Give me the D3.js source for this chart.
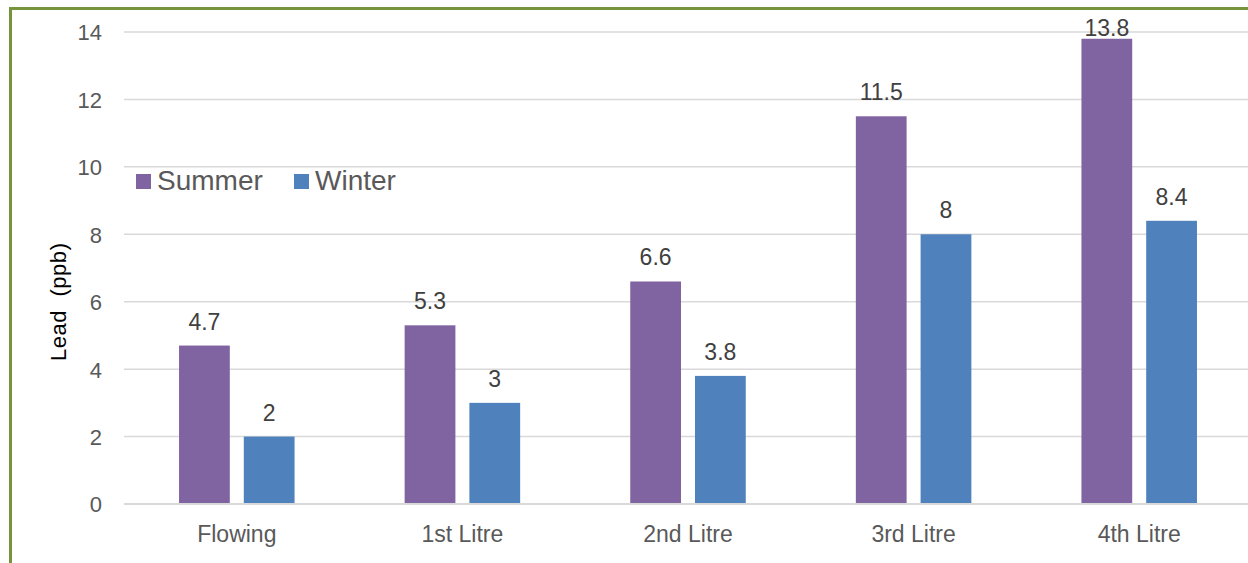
<!DOCTYPE html>
<html>
<head>
<meta charset="utf-8">
<script src="https://cdn.jsdelivr.net/npm/d3@7"></script>
<style>
  html, body { margin: 0; padding: 0; background: #fff; overflow: hidden; }
  svg { display: block; font-family: "Liberation Sans", Arial, sans-serif; }
</style>
</head>
<body>
<svg id="chart" width="1248" height="563"></svg>
<script>
// Lead concentrations (ppb) by sample, summer vs winter
const categories = ["Flowing", "1st Litre", "2nd Litre", "3rd Litre", "4th Litre"];
const seriesNames = ["Summer", "Winter"];
const summerValues = [4.7, 5.3, 6.6, 11.5, 13.8];
const winterValues = [2, 3, 3.8, 8, 8.4];
const yTicks = [0, 2, 4, 6, 8, 10, 12, 14];

const colors = { Summer: "#8064A2", Winter: "#4F81BD" };
const seriesValues = { Summer: summerValues, Winter: winterValues };

const svg = d3.select("#chart");

// Frame around the chart
svg.append("rect")
  .attr("x", 10.5).attr("y", 8.5)
  .attr("width", 1400).attr("height", 700)
  .attr("fill", "none")
  .attr("stroke", "#77933C")
  .attr("stroke-width", 3);

const plot = { left: 124, right: 1252, top: 32, bottom: 504 };

const y = d3.scaleLinear().domain([0, 14]).range([plot.bottom, plot.top]);
const x0 = d3.scaleBand().domain(categories).range([plot.left, plot.right]).padding(0);
const x1 = d3.scaleBand().domain(seriesNames).range([0, x0.bandwidth()])
  .paddingInner(0.216).paddingOuter(0.85);

// Horizontal gridlines
svg.append("g")
  .selectAll("line")
  .data(yTicks)
  .join("line")
  .attr("x1", plot.left).attr("x2", 1248)
  .attr("y1", d => y(d)).attr("y2", d => y(d))
  .attr("stroke", "#D9D9D9")
  .attr("stroke-width", 1.5);

// Y axis tick labels
const yAxis = d3.axisLeft(y).tickValues(yTicks).tickSize(0).tickPadding(0);
const yG = svg.append("g").attr("transform", "translate(102,0)").call(yAxis);
yG.select(".domain").remove();
yG.selectAll("text")
  .attr("font-size", 22)
  .attr("fill", "#595959")
  .attr("font-family", "Liberation Sans, Arial, sans-serif")
  .attr("dy", "0.36em");

// X axis category labels
const xAxis = d3.axisBottom(x0).tickSize(0).tickPadding(0);
const xG = svg.append("g").attr("transform", `translate(0,${plot.bottom})`).call(xAxis);
xG.select(".domain").remove();
xG.selectAll("text")
  .attr("font-size", 23)
  .attr("fill", "#595959")
  .attr("font-family", "Liberation Sans, Arial, sans-serif")
  .attr("dy", null)
  .attr("y", 38);

// Y axis title
svg.append("text")
  .attr("transform", "translate(66,302) rotate(-90)")
  .attr("text-anchor", "middle")
  .attr("font-size", 22)
  .attr("fill", "#000")
  .attr("textLength", 118)
  .attr("lengthAdjust", "spacing")
  .style("white-space", "pre")
  .text("Lead  (ppb)");

// Bars and value labels
const groups = svg.append("g")
  .selectAll("g")
  .data(categories)
  .join("g")
  .attr("transform", d => `translate(${x0(d)},0)`);

const cells = groups.selectAll("g")
  .data((c, i) => seriesNames.map(s => ({ series: s, value: seriesValues[s][i] })))
  .join("g");

cells.append("rect")
  .attr("x", d => x1(d.series))
  .attr("y", d => y(d.value))
  .attr("width", x1.bandwidth())
  .attr("height", d => y(0) - y(d.value))
  .attr("fill", d => colors[d.series]);

// Labels sit above each bar, kept inside the frame near the top
cells.append("text")
  .attr("x", d => x1(d.series) + x1.bandwidth() / 2)
  .attr("y", d => Math.max(y(d.value) - 16, 36))
  .attr("text-anchor", "middle")
  .attr("font-size", 23)
  .attr("fill", "#404040")
  .text(d => d.value);

// Baseline
svg.append("line")
  .attr("x1", plot.left).attr("x2", 1248)
  .attr("y1", y(0)).attr("y2", y(0))
  .attr("stroke", "#D9D9D9")
  .attr("stroke-width", 2);

// Legend
const legendItems = [
  { name: "Summer", x: 136 },
  { name: "Winter", x: 294 }
];
const legend = svg.append("g");
legend.selectAll("rect")
  .data(legendItems)
  .join("rect")
  .attr("x", d => d.x).attr("y", 174)
  .attr("width", 15).attr("height", 15)
  .attr("fill", d => colors[d.name]);
legend.selectAll("text")
  .data(legendItems)
  .join("text")
  .attr("x", d => d.x + 21).attr("y", 190)
  .attr("font-size", 28)
  .attr("fill", "#595959")
  .text(d => d.name);
</script>
</body>
</html>
